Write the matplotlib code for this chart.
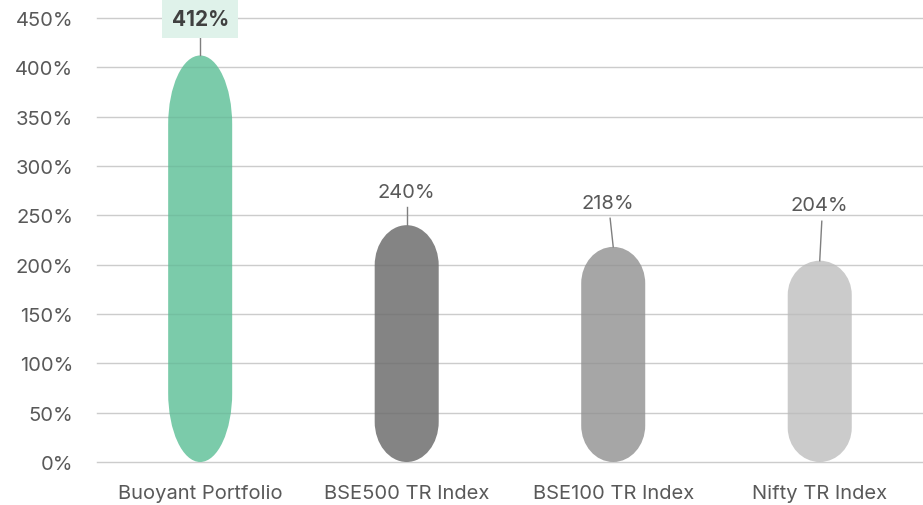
import matplotlib.pyplot as plt
from matplotlib.path import Path
from matplotlib.patches import PathPatch

# data
categories = ['Buoyant Portfolio', 'BSE500 TR Index', 'BSE100 TR Index', 'Nifty TR Index']
returns = [412, 240, 218, 204]
value_labels = ['412%', '240%', '218%', '204%']
colors = ['#7bcbaa', '#848484', '#a6a6a6', '#cbcbcb']
yticks = [0, 50, 100, 150, 200, 250, 300, 350, 400, 450]

plt.rcParams['font.family'] = ['Inter', 'DejaVu Sans']
txt = '#595959'


# bar with elliptic rounded top and bottom
def capsule(xc, h, hw, rv):
    k = 0.5523
    verts = [
        (xc - hw, rv),
        (xc - hw, h - rv),
        (xc - hw, h - rv + k * rv), (xc - k * hw, h), (xc, h),
        (xc + k * hw, h), (xc + hw, h - rv + k * rv), (xc + hw, h - rv),
        (xc + hw, rv),
        (xc + hw, rv - k * rv), (xc + k * hw, 0), (xc, 0),
        (xc - k * hw, 0), (xc - hw, rv - k * rv), (xc - hw, rv),
        (xc - hw, rv),
    ]
    codes = [Path.MOVETO, Path.LINETO] + [Path.CURVE4] * 6 + [Path.LINETO] + [Path.CURVE4] * 6 + [Path.CLOSEPOLY]
    return Path(verts, codes)


fig = plt.figure(figsize=(9.23, 5.06), dpi=100)
ax = fig.add_axes([0.105, 0.085, 0.895, 0.8775])

for t in yticks:
    ax.axhline(t, color='#d9d9d9', lw=1, zorder=1, clip_on=False)

for i, (v, c) in enumerate(zip(returns, colors)):
    ax.add_patch(PathPatch(capsule(i, v, 0.155, 0.17 * v), facecolor=c, edgecolor='none', zorder=2))

for t in yticks:
    ax.axhline(t, color='k', lw=1, alpha=0.06, zorder=3, clip_on=False)

# value labels with leader lines
label_pos = [(0, 449, 0, 430), (0, 274, 0, 258), (-0.025, 262, -0.015, 247), (0, 260, 0.01, 244)]
for i, (v, lab) in enumerate(zip(returns, value_labels)):
    dx, ly, lx, lt = label_pos[i]
    ax.plot([i + lx, i], [lt, v], color='#7f7f7f', lw=1, zorder=4, clip_on=False)
    if i == 0:
        ax.text(i + dx, ly, lab, ha='center', va='center', fontsize=15, fontweight='bold', color='#404040',
                zorder=5, clip_on=False,
                bbox=dict(boxstyle='square,pad=0.45', facecolor='#dff2ea', edgecolor='none'))
    else:
        ax.text(i + dx, ly, lab, ha='center', va='center', fontsize=14.5, color=txt, zorder=5)

ax.set_xlim(-0.5, 3.5)
ax.set_ylim(0, 450)
ax.set_xticks(range(len(categories)))
ax.set_xticklabels(categories)
ax.set_yticks(yticks)
ax.set_yticklabels([f'{t}%' for t in yticks])
ax.tick_params(length=0, labelsize=14.5, labelcolor=txt)
ax.tick_params(axis='x', pad=16)
ax.tick_params(axis='y', pad=17)
for s in ax.spines.values():
    s.set_visible(False)

plt.savefig('out.png')
